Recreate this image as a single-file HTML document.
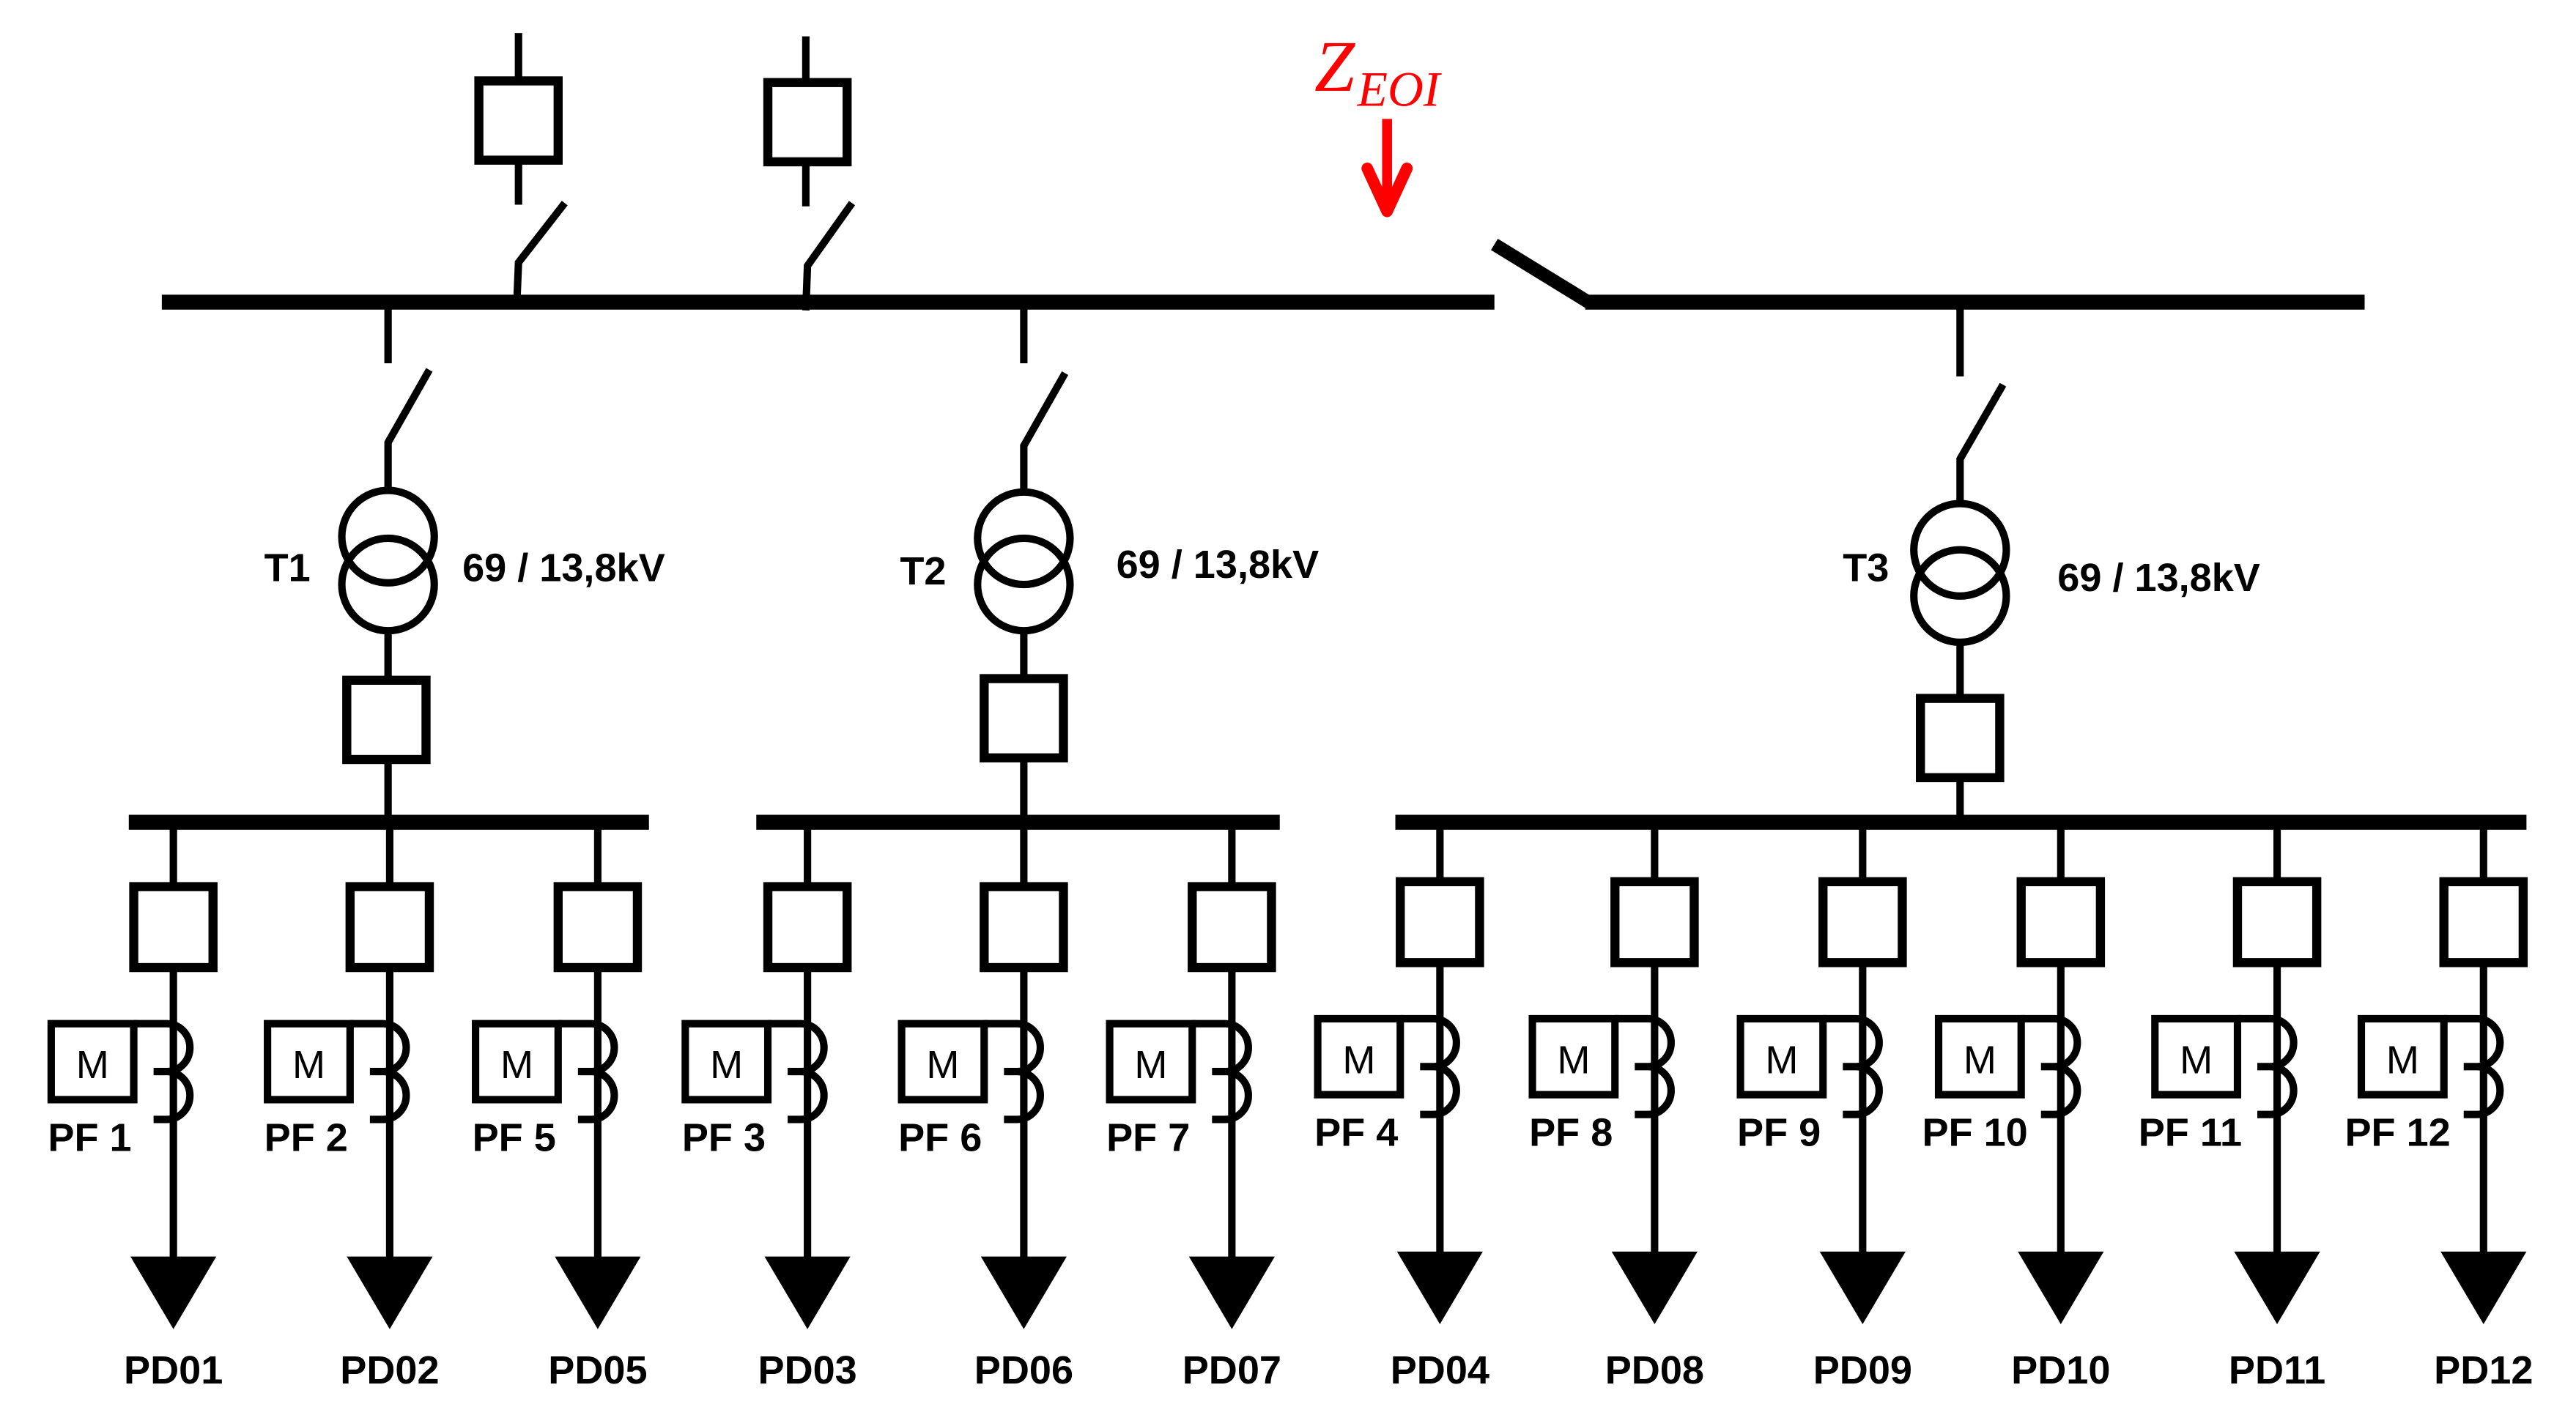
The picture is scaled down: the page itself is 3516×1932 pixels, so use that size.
<!DOCTYPE html>
<html><head><meta charset="utf-8"><style>
html,body{margin:0;padding:0;background:#fff}
svg{display:block}
.t{font-family:"Liberation Sans",sans-serif;font-weight:bold;font-size:24px;fill:#000}
.m{font-family:"Liberation Sans",sans-serif;font-size:24px;fill:#000}
</style></head><body>
<svg width="3516" height="1932" viewBox="0 0 1560 857" preserveAspectRatio="none" xmlns="http://www.w3.org/2000/svg" xmlns:xlink="http://www.w3.org/1999/xlink">
<defs>
<g id="br">
<g stroke="#000" fill="none" stroke-width="4.5">
<line x1="0" y1="500" x2="0" y2="537"/>
<rect x="-24" y="537" width="48" height="49" stroke-width="5.5"/>
<line x1="0" y1="586" x2="0" y2="762"/>
<rect x="-74" y="620" width="50" height="46"/>
<path d="M-24 620 H-4 A14 14.5 0 0 1 -4 649 H-12 M-4 649 A14 14.5 0 0 1 -4 678 H-12"/>
</g>
<polygon points="-26,761 26,761 0,805" fill="#000"/>
</g>
</defs>
<rect width="1560" height="857" fill="#fff"/>
<g stroke="#000" fill="none" stroke-width="4.5">
<line x1="98" y1="183" x2="905" y2="183" stroke-width="9"/>
<line x1="960" y1="183" x2="1432" y2="183" stroke-width="9"/>
<line x1="905" y1="148" x2="962" y2="183" stroke-width="8"/>
<line x1="314" y1="20" x2="314" y2="48"/><rect x="290" y="49" width="48" height="48" stroke-width="5.5"/>
<line x1="314" y1="97" x2="314" y2="124"/><polyline points="342,123 314,159 313,183"/>
<line x1="488" y1="22" x2="488" y2="49"/><rect x="465" y="50" width="48" height="48" stroke-width="5.5"/>
<line x1="488" y1="98" x2="488" y2="125"/><polyline points="516,123 489,161 488,188"/>
<line x1="235" y1="187" x2="235" y2="220"/><polyline points="260,224 235,268 235,298"/>
<circle cx="235" cy="325" r="28"/><circle cx="235" cy="354" r="28"/>
<line x1="235" y1="382" x2="235" y2="411"/><rect x="210" y="412" width="48" height="48" stroke-width="5.5"/>
<line x1="235" y1="460" x2="235" y2="498"/>
<line x1="78" y1="498" x2="393" y2="498" stroke-width="9"/>
<line x1="620" y1="187" x2="620" y2="220"/><polyline points="645,226 620,270 620,298"/>
<circle cx="620" cy="326" r="28"/><circle cx="620" cy="354" r="28"/>
<line x1="620" y1="382" x2="620" y2="411"/><rect x="596" y="411" width="48" height="48" stroke-width="5.5"/>
<line x1="620" y1="459" x2="620" y2="498"/>
<line x1="458" y1="498" x2="775" y2="498" stroke-width="9"/>
<line x1="1187" y1="187" x2="1187" y2="228"/><polyline points="1213,233 1187,278 1187,306"/>
<circle cx="1187" cy="333" r="28"/><circle cx="1187" cy="361" r="28"/>
<line x1="1187" y1="389" x2="1187" y2="422"/><rect x="1163" y="423" width="48" height="48" stroke-width="5.5"/>
<line x1="1187" y1="471" x2="1187" y2="502"/>
<line x1="845" y1="498" x2="1530" y2="498" stroke-width="9"/>
</g>
<text x="796" y="55" font-family="Liberation Serif,serif" font-style="italic" font-size="44" fill="#f00">Z</text>
<text x="822" y="64" font-family="Liberation Serif,serif" font-style="italic" font-size="30" fill="#f00">EOI</text>
<line x1="840" y1="72" x2="840" y2="122" stroke="#f00" stroke-width="6"/>
<polyline points="828,102 840,128 852,102" stroke="#f00" stroke-width="7" fill="none" stroke-linecap="round" stroke-linejoin="round"/>
<text class="t" x="160" y="352">T1</text><text class="t" x="280" y="352">69 / 13,8kV</text>
<text class="t" x="545" y="354">T2</text><text class="t" x="676" y="350">69 / 13,8kV</text>
<text class="t" x="1116" y="352">T3</text><text class="t" x="1246" y="358">69 / 13,8kV</text>

<g transform="translate(105,0)"><use xlink:href="#br" href="#br"/><text class="m" x="-49" y="653" text-anchor="middle">M</text><text class="t" x="-76" y="697">PF 1</text><text class="t" x="0" y="838" text-anchor="middle">PD01</text></g>
<g transform="translate(236,0)"><use xlink:href="#br" href="#br"/><text class="m" x="-49" y="653" text-anchor="middle">M</text><text class="t" x="-76" y="697">PF 2</text><text class="t" x="0" y="838" text-anchor="middle">PD02</text></g>
<g transform="translate(362,0)"><use xlink:href="#br" href="#br"/><text class="m" x="-49" y="653" text-anchor="middle">M</text><text class="t" x="-76" y="697">PF 5</text><text class="t" x="0" y="838" text-anchor="middle">PD05</text></g>
<g transform="translate(489,0)"><use xlink:href="#br" href="#br"/><text class="m" x="-49" y="653" text-anchor="middle">M</text><text class="t" x="-76" y="697">PF 3</text><text class="t" x="0" y="838" text-anchor="middle">PD03</text></g>
<g transform="translate(620,0)"><use xlink:href="#br" href="#br"/><text class="m" x="-49" y="653" text-anchor="middle">M</text><text class="t" x="-76" y="697">PF 6</text><text class="t" x="0" y="838" text-anchor="middle">PD06</text></g>
<g transform="translate(746,0)"><use xlink:href="#br" href="#br"/><text class="m" x="-49" y="653" text-anchor="middle">M</text><text class="t" x="-76" y="697">PF 7</text><text class="t" x="0" y="838" text-anchor="middle">PD07</text></g>
<g transform="translate(872,-3)"><use xlink:href="#br" href="#br"/><text class="m" x="-49" y="653" text-anchor="middle">M</text><text class="t" x="-76" y="697">PF 4</text><text class="t" x="0" y="841" text-anchor="middle">PD04</text></g>
<g transform="translate(1002,-3)"><use xlink:href="#br" href="#br"/><text class="m" x="-49" y="653" text-anchor="middle">M</text><text class="t" x="-76" y="697">PF 8</text><text class="t" x="0" y="841" text-anchor="middle">PD08</text></g>
<g transform="translate(1128,-3)"><use xlink:href="#br" href="#br"/><text class="m" x="-49" y="653" text-anchor="middle">M</text><text class="t" x="-76" y="697">PF 9</text><text class="t" x="0" y="841" text-anchor="middle">PD09</text></g>
<g transform="translate(1248,-3)"><use xlink:href="#br" href="#br"/><text class="m" x="-49" y="653" text-anchor="middle">M</text><text class="t" x="-84" y="697">PF 10</text><text class="t" x="0" y="841" text-anchor="middle">PD10</text></g>
<g transform="translate(1379,-3)"><use xlink:href="#br" href="#br"/><text class="m" x="-49" y="653" text-anchor="middle">M</text><text class="t" x="-84" y="697">PF 11</text><text class="t" x="0" y="841" text-anchor="middle">PD11</text></g>
<g transform="translate(1504,-3)"><use xlink:href="#br" href="#br"/><text class="m" x="-49" y="653" text-anchor="middle">M</text><text class="t" x="-84" y="697">PF 12</text><text class="t" x="0" y="841" text-anchor="middle">PD12</text></g>
</svg>
</body></html>
